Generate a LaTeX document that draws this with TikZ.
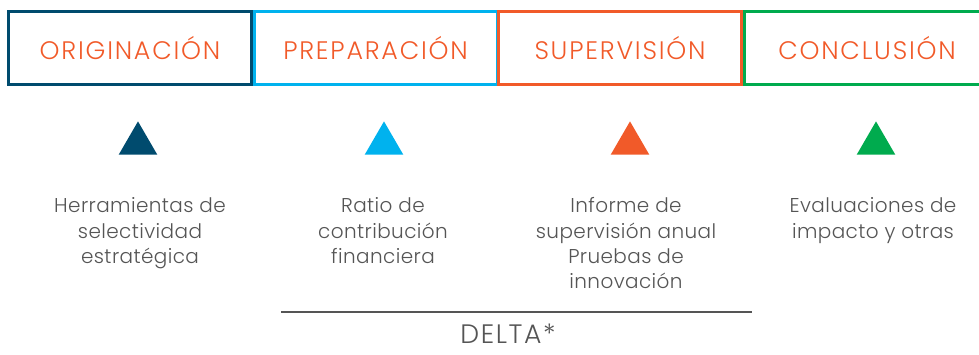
\documentclass[tikz,border=0pt]{standalone}
\usepackage{fontspec}
\setmainfont{Poppins}[UprightFont = * Light]
\usetikzlibrary{shapes.geometric}

\definecolor{darkblue}{HTML}{004B6E}
\definecolor{lightblue}{HTML}{00B2EE}
\definecolor{orangered}{HTML}{F15A29}
\definecolor{brightgreen}{HTML}{00AB4E}
\definecolor{textgrey}{HTML}{555555}

\begin{document}
\begin{tikzpicture}[x = 0.75pt, y = -0.75pt]
	\tikzstyle{stageStyle} = [shape = rectangle, line width = 2pt, minimum width = 182pt, minimum height = 55pt, inner sep = 0pt, text = orangered, font = \fontsize{19}{22}\selectfont\addfontfeatures{LetterSpace = 7}]
	\tikzstyle{markStyle} = [shape = isosceles triangle, shape border rotate = 90, isosceles triangle stretches, minimum width = 29pt, minimum height = 25pt, inner sep = 0pt, anchor = south]
	\tikzstyle{toolStyle} = [align = center, anchor = north, text = textgrey, font = \fontsize{15}{19}\selectfont\addfontfeatures{LetterSpace = 2}]
	\useasboundingbox (0, 0) rectangle (979, 354);
	\clip (0, 0) rectangle (979, 354);
	\node[stageStyle, draw = darkblue] (orig) at (130, 48) {ORIGINACIÓN};
	\node[stageStyle, draw = lightblue] (prep) at (375.5, 48) {PREPARACIÓN};
	\node[stageStyle, draw = orangered] (superv) at (620, 48) {SUPERVISIÓN};
	\node[stageStyle, draw = brightgreen, minimum width = 184pt] (concl) at (867, 48) {CONCLUSIÓN};
	\node[markStyle, fill = darkblue] (m1) at (138, 155) {};
	\node[markStyle, fill = lightblue] (m2) at (384, 155) {};
	\node[markStyle, fill = orangered] (m3) at (630, 155) {};
	\node[markStyle, fill = brightgreen] (m4) at (876, 155) {};
	\node[toolStyle] (t1) at (140, 193) {Herramientas de\\selectividad\\estratégica};
	\node[toolStyle] (t2) at (383, 193) {Ratio de\\contribución\\financiera};
	\node[toolStyle] (t3) at (626, 193) {Informe de\\supervisión anual\\Pruebas de\\innovación};
	\node[toolStyle] (t4) at (873, 193) {Evaluaciones de\\impacto y otras};
	\coordinate (d1) at (281, 312);
	\coordinate (d2) at (752, 312);
	\draw[textgrey, line width = 0.8pt] (d1) -- (d2);
	\node[text = textgrey, inner sep = 0pt, font = \fontsize{20}{24}\selectfont\addfontfeatures{LetterSpace = 6}] (delta) at (508, 334) {DELTA*};
\end{tikzpicture}
\end{document}
